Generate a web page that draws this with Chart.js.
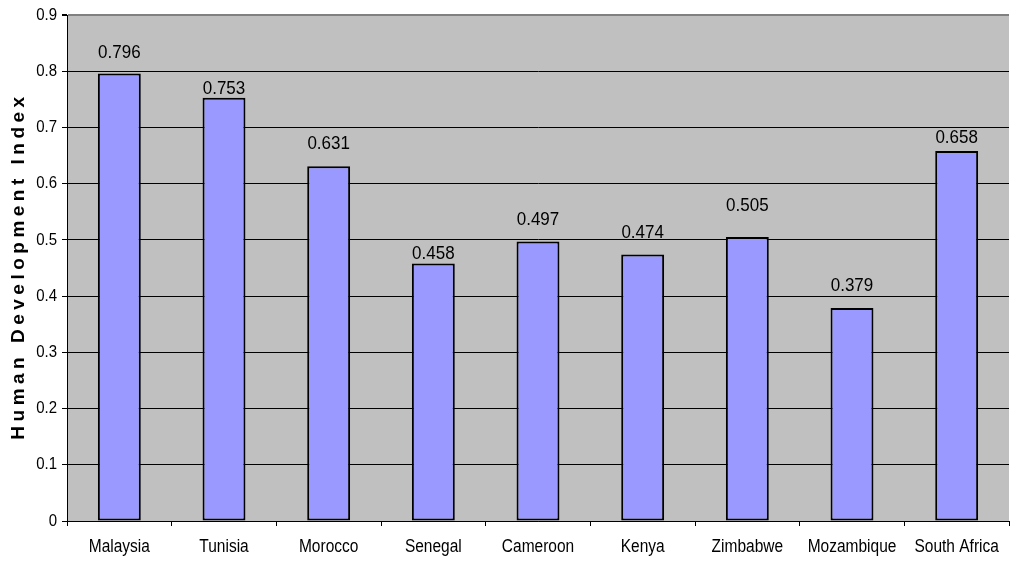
<!DOCTYPE html>
<html>
<head>
<meta charset="utf-8">
<script src="https://cdn.jsdelivr.net/npm/chart.js@4/dist/chart.umd.min.js"></script>
<style>
  html, body { margin: 0; padding: 0; background: #fff; }
  #wrap { width: 1010px; height: 562px; position: relative; }
</style>
</head>
<body>
<div id="wrap"><canvas id="hdiChart"></canvas></div>
<script>
const countries = ['Malaysia', 'Tunisia', 'Morocco', 'Senegal', 'Cameroon', 'Kenya', 'Zimbabwe', 'Mozambique', 'South Africa'];
const hdiValues = [0.796, 0.753, 0.631, 0.458, 0.497, 0.474, 0.505, 0.379, 0.658];
const yTicks = [0, 0.1, 0.2, 0.3, 0.4, 0.5, 0.6, 0.7, 0.8, 0.9];

// distance of each value label's centre above its bar
const labelLift = [21, 9, 22, 10, 22, 22, 31, 22, 13];

const sans = '"Liberation Sans", Arial, sans-serif';

// text drawn slightly taller than wide, like the original export
function tallText(ctx, text, x, y, stretch) {
    ctx.save();
    ctx.translate(x, y);
    ctx.scale(1, stretch);
    ctx.fillText(text, 0, 0);
    ctx.restore();
}

const plotBackground = {
    id: 'plotBackground',
    beforeDraw(chart) {
        const a = chart.chartArea;
        const ctx = chart.ctx;
        ctx.save();
        ctx.fillStyle = '#C0C0C0';
        ctx.fillRect(a.left, a.top, a.right - a.left, a.bottom - a.top);
        ctx.restore();
    }
};

const axisText = {
    id: 'axisText',
    afterDraw(chart) {
        const ctx = chart.ctx;
        const xs = chart.scales.x;
        const ys = chart.scales.y;
        ctx.save();
        ctx.fillStyle = '#000';
        ctx.textBaseline = 'middle';

        ctx.font = '15.5px ' + sans;
        ctx.textAlign = 'center';
        countries.forEach((name, i) => {
            tallText(ctx, name, xs.getPixelForValue(i), 547, 1.18);
        });

        ctx.font = '15px ' + sans;
        ctx.textAlign = 'right';
        yTicks.forEach(v => {
            tallText(ctx, String(v), ys.left + ys.width - 10, ys.getPixelForValue(v), 1.12);
        });

        ctx.font = '17px ' + sans;
        ctx.textAlign = 'center';
        chart.getDatasetMeta(0).data.forEach((bar, i) => {
            tallText(ctx, hdiValues[i].toFixed(3), bar.x, bar.y - labelLift[i], 1.1);
        });

        ctx.translate(19, 268);
        ctx.rotate(-Math.PI / 2);
        ctx.font = 'bold 19px ' + sans;
        ctx.letterSpacing = '4.5px';
        ctx.fillText('Human Development Index', 2, 0);
        ctx.restore();
    }
};

new Chart(document.getElementById('hdiChart'), {
    type: 'bar',
    data: {
        labels: countries,
        datasets: [{
            data: hdiValues,
            backgroundColor: '#9999FF',
            borderColor: '#000',
            borderWidth: 2,
            borderSkipped: false,
            categoryPercentage: 1,
            barPercentage: 0.41
        }]
    },
    options: {
        responsive: true,
        maintainAspectRatio: false,
        animation: false,
        devicePixelRatio: 1,
        layout: { padding: { top: 15, right: 1, left: 0, bottom: 0 } },
        plugins: {
            legend: { display: false },
            tooltip: { enabled: false }
        },
        scales: {
            x: {
                offset: true,
                grid: {
                    offset: true,
                    drawOnChartArea: false,
                    drawTicks: true,
                    tickLength: 5,
                    color: '#000'
                },
                border: { color: '#000', width: 1 },
                ticks: { display: false, autoSkip: false },
                afterFit(scale) { scale.height = 41; }
            },
            y: {
                min: 0,
                max: 0.9,
                afterBuildTicks(scale) {
                    scale.ticks = yTicks.map(v => ({ value: v }));
                },
                grid: {
                    color: ctx => ctx.tick && ctx.tick.value === 0.9 ? '#808080' : '#000',
                    lineWidth: ctx => ctx.tick && ctx.tick.value === 0.9 ? 2 : 1,
                    tickLength: 5,
                    tickColor: '#000'
                },
                border: { color: '#000', width: 1 },
                ticks: { display: false },
                afterFit(scale) { scale.width = 67; }
            }
        }
    },
    plugins: [plotBackground, axisText]
});
</script>
</body>
</html>
